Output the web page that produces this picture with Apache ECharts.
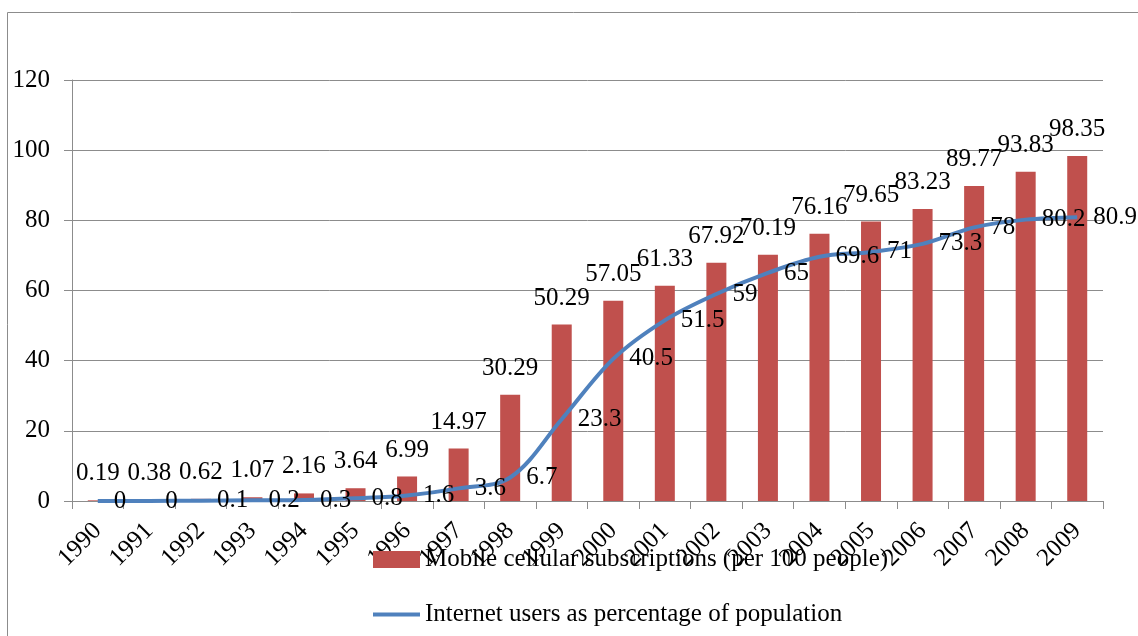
<!DOCTYPE html>
<html>
<head>
<meta charset="utf-8">
<script src="https://cdn.jsdelivr.net/npm/echarts@6/dist/echarts.min.js"></script>
<style>
html,body{margin:0;padding:0;background:#fff;}
#chart{width:1138px;height:636px;}
</style>
</head>
<body>
<div id="chart"></div>
<script>
const years = ['1990','1991','1992','1993','1994','1995','1996','1997','1998','1999','2000','2001','2002','2003','2004','2005','2006','2007','2008','2009'];
const mobileSubs = [0.19,0.38,0.62,1.07,2.16,3.64,6.99,14.97,30.29,50.29,57.05,61.33,67.92,70.19,76.16,79.65,83.23,89.77,93.83,98.35];
const internetUsers = [0,0,0.1,0.2,0.3,0.8,1.6,3.6,6.7,23.3,40.5,51.5,59,65,69.6,71,73.3,78,80.2,80.9];
const yTicks = {min:0, max:120, interval:20};
const seriesNames = ['Mobile cellular subscriptions (per 100 people)','Internet users as percentage of population'];

const FONT = 'Liberation Serif';
const FS = 25;
const chart = echarts.init(document.getElementById('chart'), null, {renderer:'canvas'});
chart.setOption({
  animation:false,
  backgroundColor:'#fff',
  textStyle:{fontFamily:FONT},
  graphic:[{type:'rect', shape:{x:7.5,y:12.5,width:1200,height:700}, style:{fill:'none',stroke:'#8c8c8c',lineWidth:1}, z:-10}],
  grid:{left:72,right:35,top:80,bottom:135,containLabel:false},
  legend:{
    orient:'vertical', left:368, top:542, itemWidth:47, itemHeight:17, itemGap:30,
    textStyle:{fontFamily:FONT,fontSize:FS,color:'#000'},
    data:[
      {name:seriesNames[0],icon:'rect'},
      {name:seriesNames[1],icon:'path://M0,0 H47 V4 H0 Z'}
    ]
  },
  xAxis:{
    type:'category', data:years, boundaryGap:true,
    axisLine:{lineStyle:{color:'#8c8c8c',width:1}},
    axisTick:{show:true,length:8,lineStyle:{color:'#8c8c8c'}},
    axisLabel:{rotate:45,margin:26,color:'#000',fontFamily:FONT,fontSize:FS,interval:0}
  },
  yAxis:{
    type:'value', min:yTicks.min, max:yTicks.max, interval:yTicks.interval,
    axisLine:{show:true,lineStyle:{color:'#8c8c8c',width:1}},
    axisTick:{show:true,length:8,lineStyle:{color:'#8c8c8c'}},
    splitLine:{show:true,lineStyle:{color:'#8c8c8c',width:1}},
    axisLabel:{margin:22,color:'#000',fontFamily:FONT,fontSize:FS}
  },
  series:[
    {
      name:seriesNames[0], type:'bar', data:mobileSubs, barWidth:20,
      itemStyle:{color:'#C0504D'},
      label:{show:true,position:'top',distance:14,color:'#000',fontFamily:FONT,fontSize:FS}
    },
    {
      name:seriesNames[1], type:'line', data:internetUsers, smooth:0.35,
      symbol:'circle', symbolSize:0, showSymbol:true,
      lineStyle:{color:'#4F81BD',width:4},
      itemStyle:{color:'#4F81BD'},
      label:{show:true,position:'right',distance:16,color:'#000',fontFamily:FONT,fontSize:FS},
      z:5
    }
  ]
});
</script>
</body>
</html>
